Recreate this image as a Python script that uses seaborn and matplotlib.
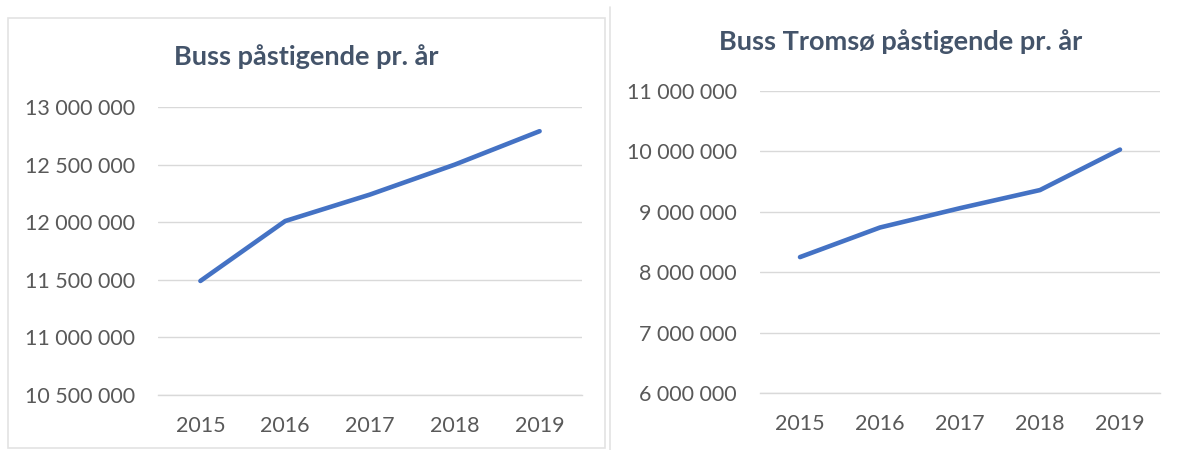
import numpy as np
import pandas as pd
import matplotlib.pyplot as plt
import matplotlib.ticker as mticker
from matplotlib.patches import Rectangle
import seaborn as sns

years = ["2015", "2016", "2017", "2018", "2019"]
buss_total = [11490000, 12010000, 12240000, 12500000, 12790000]
buss_tromso = [8250000, 8740000, 9060000, 9360000, 10030000]

sns.set_theme(style="white")
plt.rcParams["font.family"] = ["Lato", "DejaVu Sans"]

line_color = "#4472C4"
grid_color = "#D9D9D9"
text_color = "#595959"
title_color = "#44546A"


def space_fmt(v, pos):
    return f"{int(round(v)):,}".replace(",", " ")


fig = plt.figure(figsize=(11.79, 4.5), dpi=100)

# panel frame round the left chart, and separator line
fig.patches.append(Rectangle((8 / 1179, 2 / 450), 597 / 1179, 430 / 450,
                             transform=fig.transFigure, fill=False,
                             edgecolor="#E3E3E3", linewidth=1.2))
fig.add_artist(plt.Line2D([610 / 1179, 610 / 1179], [0, 443 / 450],
                          transform=fig.transFigure, color="#E3E3E3", linewidth=1.2))

ax1 = fig.add_axes([158 / 1179, 1 - 395 / 450, 424 / 1179, 288 / 450])
ax2 = fig.add_axes([760 / 1179, 1 - 393 / 450, 400 / 1179, 302 / 450])

panels = [
    (ax1, buss_total, 10500000, 13000000, 500000, "Buss påstigende pr. år", 306, 57),
    (ax2, buss_tromso, 6000000, 11000000, 1000000, "Buss Tromsø påstigende pr. år", 901, 42),
]

for ax, vals, lo, hi, step, title, tx, ty in panels:
    df = pd.DataFrame({"x": np.arange(len(years)), "y": vals})
    sns.lineplot(data=df, x="x", y="y", ax=ax, color=line_color, linewidth=3.3,
                 solid_capstyle="round")
    ax.set_xlim(-0.5, len(years) - 0.5)
    ax.set_ylim(lo, hi)
    ax.set_yticks(np.arange(lo, hi + 1, step))
    ax.yaxis.set_major_formatter(mticker.FuncFormatter(space_fmt))
    ax.set_xticks(np.arange(len(years)))
    ax.set_xticklabels(years)
    ax.set_xticks(np.arange(-0.5, len(years)), minor=True)
    ax.grid(True, axis="y", color=grid_color, linewidth=1.0)
    ax.set_axisbelow(True)
    for s in ["top", "right", "left"]:
        ax.spines[s].set_visible(False)
    ax.spines["bottom"].set_color(grid_color)
    ax.spines["bottom"].set_linewidth(1.0)
    ax.tick_params(axis="x", which="major", length=0, pad=15, labelsize=15.5, labelcolor=text_color)
    ax.tick_params(axis="x", which="minor", length=5, color=grid_color, width=1)
    ax.tick_params(axis="y", length=0, pad=16.5, labelsize=15.5, labelcolor=text_color)
    ax.set_xlabel("")
    ax.set_ylabel("")
    fig.text(tx / 1179, 1 - ty / 450, title, ha="center", va="center",
             fontsize=19.5, fontweight="bold", color=title_color)

fig.savefig("out.png", dpi=100)
